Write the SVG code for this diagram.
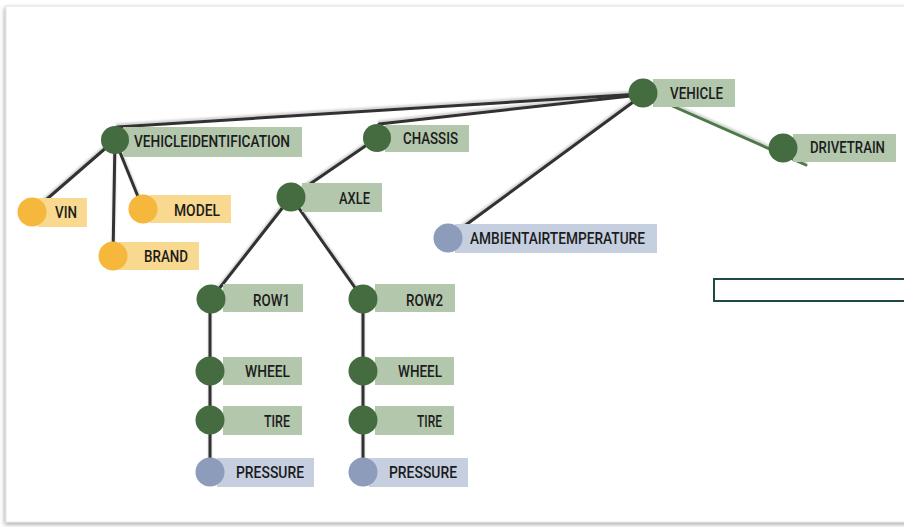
<svg xmlns="http://www.w3.org/2000/svg" width="904" height="527" viewBox="0 0 904 527">
  <defs>
    <filter id="cardShadow" x="-5%" y="-5%" width="110%" height="110%">
      <feDropShadow dx="-1" dy="2" stdDeviation="2" flood-color="#000" flood-opacity="0.35"/>
    </filter>
    <filter id="lineShadow" x="-5%" y="-20%" width="110%" height="140%">
      <feDropShadow dx="0" dy="-2" stdDeviation="1" flood-color="#000" flood-opacity="0.2"/>
    </filter>
    <style>
      .edge { stroke: #323232; stroke-width: 3; fill: none; stroke-linecap: round; }
      .edge.green { stroke: #4e7a49; }
      .lbl-g { fill: #b3c7ad; }
      .lbl-y { fill: #f8d98f; }
      .lbl-b { fill: #c5cfe0; }
      .dot-g { fill: #446c40; }
      .dot-y { fill: #f5b83c; }
      .dot-b { fill: #8d9cba; }
      text { font-family: Roboto, "Liberation Sans", sans-serif; font-size: 17px; font-weight: 500; fill: #1c1c1c; }
    </style>
  </defs>

  <rect x="0" y="0" width="904" height="527" fill="#ffffff"/>
  <rect x="6" y="6" width="910" height="516" fill="#ffffff" stroke="#e2e2e2" stroke-width="1" filter="url(#cardShadow)"/>

  <!-- connectors -->
  <g id="connectors" filter="url(#lineShadow)">
    <line class="edge" x1="640" y1="94" x2="117" y2="127"/>
    <line class="edge" x1="640" y1="95" x2="379" y2="124"/>
    <line class="edge" x1="640" y1="97" x2="448" y2="238"/>
    <line class="edge green" x1="643" y1="93" x2="806" y2="165"/>
    <line class="edge" x1="115" y1="140" x2="32" y2="212"/>
    <line class="edge" x1="115" y1="140" x2="113" y2="256"/>
    <line class="edge" x1="115" y1="140" x2="143" y2="209"/>
    <line class="edge" x1="377" y1="138" x2="291" y2="197"/>
    <line class="edge" x1="291" y1="197" x2="211" y2="299"/>
    <line class="edge" x1="291" y1="197" x2="363" y2="299"/>
    <line class="edge" x1="210" y1="299" x2="210" y2="472"/>
    <line class="edge" x1="363" y1="299" x2="363" y2="472"/>
  </g>

  <!-- nodes -->
  <g id="node-vehicle">
    <rect class="lbl-g" x="653" y="79" width="82" height="28"/>
    <circle class="dot-g" cx="643" cy="93" r="14.5"/>
    <text x="670" y="99" textLength="53" lengthAdjust="spacingAndGlyphs">VEHICLE</text>
  </g>
  <g id="node-vehicleidentification">
    <rect class="lbl-g" x="123" y="127" width="179" height="30"/>
    <circle class="dot-g" cx="115" cy="140" r="14"/>
    <text x="134" y="147" textLength="156" lengthAdjust="spacingAndGlyphs">VEHICLEIDENTIFICATION</text>
  </g>
  <g id="node-chassis">
    <rect class="lbl-g" x="385" y="125" width="84" height="27"/>
    <circle class="dot-g" cx="377" cy="138" r="14"/>
    <text x="403" y="144" textLength="55" lengthAdjust="spacingAndGlyphs">CHASSIS</text>
  </g>
  <g id="node-drivetrain">
    <rect class="lbl-g" x="793" y="134" width="103" height="28"/>
    <circle class="dot-g" cx="783" cy="148" r="14.5"/>
    <text x="810" y="153" textLength="75" lengthAdjust="spacingAndGlyphs">DRIVETRAIN</text>
  </g>
  <g id="node-axle">
    <rect class="lbl-g" x="302" y="183" width="80" height="29"/>
    <circle class="dot-g" cx="291" cy="197" r="14.5"/>
    <text x="339" y="204" textLength="31" lengthAdjust="spacingAndGlyphs">AXLE</text>
  </g>
  <g id="node-vin">
    <rect class="lbl-y" x="38" y="198" width="49" height="29"/>
    <circle class="dot-y" cx="32" cy="212" r="14.5"/>
    <text x="55" y="218" textLength="22" lengthAdjust="spacingAndGlyphs">VIN</text>
  </g>
  <g id="node-model">
    <rect class="lbl-y" x="150" y="195" width="81" height="28"/>
    <circle class="dot-y" cx="143" cy="209" r="14.5"/>
    <text x="174" y="216" textLength="46" lengthAdjust="spacingAndGlyphs">MODEL</text>
  </g>
  <g id="node-brand">
    <rect class="lbl-y" x="119" y="242" width="80" height="28"/>
    <circle class="dot-y" cx="113" cy="256" r="14.5"/>
    <text x="144" y="262" textLength="44" lengthAdjust="spacingAndGlyphs">BRAND</text>
  </g>
  <g id="node-ambientairtemperature">
    <rect class="lbl-b" x="455" y="224" width="202" height="29"/>
    <circle class="dot-b" cx="448" cy="238" r="14.5"/>
    <text x="470" y="244" textLength="175" lengthAdjust="spacingAndGlyphs">AMBIENTAIRTEMPERATURE</text>
  </g>

  <g id="node-row1">
    <rect class="lbl-g" x="223" y="284" width="80" height="28"/>
    <circle class="dot-g" cx="211" cy="299" r="14.5"/>
    <text x="253" y="306" textLength="37" lengthAdjust="spacingAndGlyphs">ROW1</text>
  </g>
  <g id="node-row1-wheel">
    <rect class="lbl-g" x="223" y="357" width="79" height="28"/>
    <circle class="dot-g" cx="210" cy="371" r="14.5"/>
    <text x="245" y="377" textLength="45" lengthAdjust="spacingAndGlyphs">WHEEL</text>
  </g>
  <g id="node-row1-tire">
    <rect class="lbl-g" x="223" y="406" width="79" height="29"/>
    <circle class="dot-g" cx="210" cy="420" r="14.5"/>
    <text x="264" y="427" textLength="26" lengthAdjust="spacingAndGlyphs">TIRE</text>
  </g>
  <g id="node-row1-pressure">
    <rect class="lbl-b" x="217" y="458" width="97" height="29"/>
    <circle class="dot-b" cx="210" cy="472" r="14.5"/>
    <text x="236" y="478" textLength="68" lengthAdjust="spacingAndGlyphs">PRESSURE</text>
  </g>

  <g id="node-row2">
    <rect class="lbl-g" x="375" y="284" width="80" height="28"/>
    <circle class="dot-g" cx="363" cy="299" r="14.5"/>
    <text x="406" y="306" textLength="37" lengthAdjust="spacingAndGlyphs">ROW2</text>
  </g>
  <g id="node-row2-wheel">
    <rect class="lbl-g" x="375" y="357" width="79" height="28"/>
    <circle class="dot-g" cx="363" cy="371" r="14.5"/>
    <text x="398" y="377" textLength="44" lengthAdjust="spacingAndGlyphs">WHEEL</text>
  </g>
  <g id="node-row2-tire">
    <rect class="lbl-g" x="375" y="406" width="79" height="29"/>
    <circle class="dot-g" cx="363" cy="420" r="14.5"/>
    <text x="417" y="427" textLength="25" lengthAdjust="spacingAndGlyphs">TIRE</text>
  </g>
  <g id="node-row2-pressure">
    <rect class="lbl-b" x="369" y="458" width="99" height="29"/>
    <circle class="dot-b" cx="363" cy="472" r="14.5"/>
    <text x="389" y="478" textLength="68" lengthAdjust="spacingAndGlyphs">PRESSURE</text>
  </g>

  <!-- empty outlined box at right -->
  <rect x="714" y="279" width="200" height="22" fill="none" stroke="#1e4a45" stroke-width="2"/>
</svg>
